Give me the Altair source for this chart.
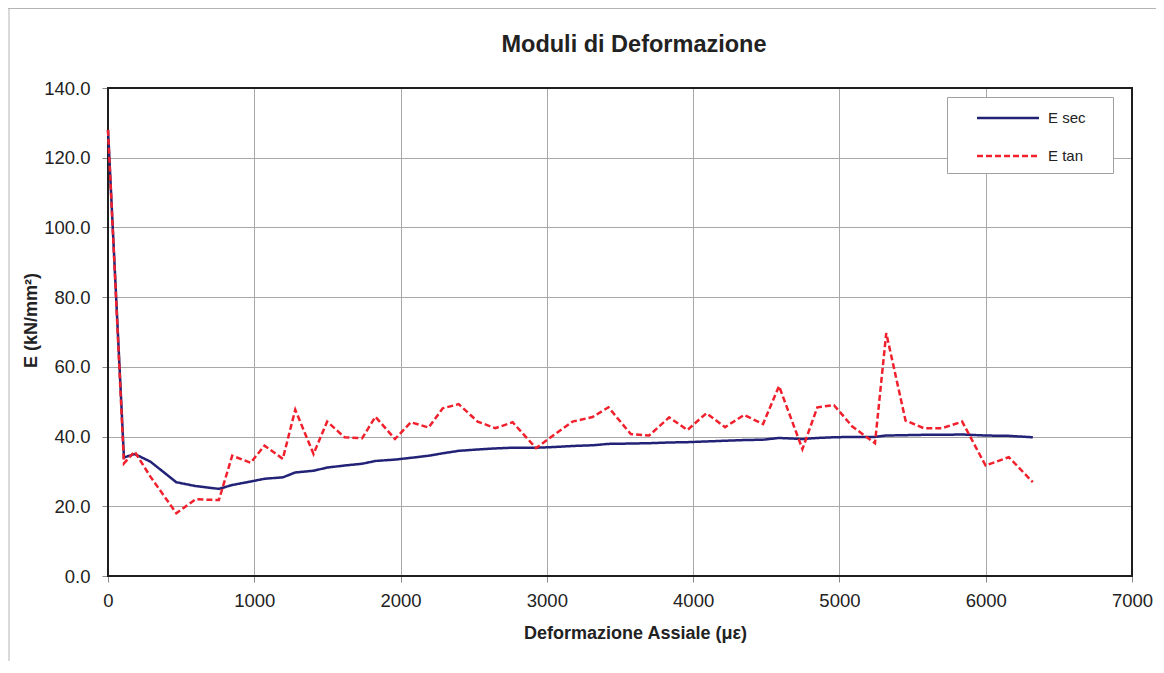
import altair as alt
import pandas as pd

# ---- data ----
strain = [0, 109, 182, 290, 467, 599, 758, 849, 975, 1070,
          1195, 1280, 1405, 1498, 1617, 1737, 1828, 1962, 2070, 2192,
          2288, 2397, 2527, 2648, 2766, 2926, 3050, 3176, 3312, 3421,
          3574, 3699, 3836, 3961, 4091, 4218, 4348, 4478, 4587, 4747,
          4849, 4963, 5088, 5243, 5320, 5452, 5577, 5702, 5839, 5999,
          6158, 6322]
e_sec = [128.0, 34.0, 35.0, 32.8, 26.9, 25.8, 25.0, 26.1, 27.1, 27.9,
         28.3, 29.7, 30.2, 31.1, 31.7, 32.2, 33.0, 33.4, 33.9, 34.5,
         35.2, 35.9, 36.3, 36.6, 36.8, 36.8, 37.0, 37.3, 37.5, 37.9,
         38.0, 38.1, 38.3, 38.4, 38.6, 38.8, 39.0, 39.1, 39.6, 39.3,
         39.6, 39.8, 39.9, 39.9, 40.3, 40.4, 40.5, 40.5, 40.6, 40.3,
         40.2, 39.8]
e_tan = [128.0, 32.3, 35.7, 28.5, 18.0, 22.0, 21.8, 34.5, 32.5, 37.4,
         33.6, 47.7, 35.0, 44.3, 39.8, 39.5, 45.7, 39.3, 44.1, 42.6,
         48.1, 49.3, 44.3, 42.4, 44.1, 36.7, 40.5, 44.3, 45.6, 48.4,
         40.7, 40.3, 45.5, 41.9, 46.7, 42.7, 46.2, 43.6, 54.5, 36.4,
         48.4, 49.0, 42.9, 38.1, 69.7, 44.6, 42.4, 42.4, 44.3, 31.7,
         34.1, 26.9]
series_names = ["E sec", "E tan"]
x_ticks = [0, 1000, 2000, 3000, 4000, 5000, 6000, 7000]
y_ticks = [0, 20, 40, 60, 80, 100, 120, 140]
chart_title = "Moduli di Deformazione"

df = pd.concat([
    pd.DataFrame({"strain": strain, "E": e_sec, "serie": series_names[0]}),
    pd.DataFrame({"strain": strain, "E": e_tan, "serie": series_names[1]}),
], ignore_index=True)

FONT = "Liberation Sans"
BLUE = "#222277"
RED = "#f0202c"
TXT = "#222222"

# legend symbol: a horizontal stroke; the trailing move-to only widens the legend box
legend = alt.Legend(
    title=None, orient="none", legendX=839, legendY=9,
    symbolType="M-3,0H3M8.8,0", symbolSize=427, symbolStrokeWidth=2.5,
    symbolOffset=40, labelOffset=28, rowPadding=18,
    labelFont=FONT, labelFontSize=15, labelColor=TXT,
    padding=9, strokeColor="#a0a0a0", fillColor="white",
)

lines = alt.Chart(df).mark_line(strokeWidth=2.5).encode(
    x=alt.X("strain:Q", scale=alt.Scale(domain=[0, 7000], nice=False),
            axis=alt.Axis(values=x_ticks, format="d", labelFlush=False,
                          title="Deformazione Assiale (με)",
                          titleX=527, titleY=62, titleBaseline="alphabetic",
                          titleAlign="center", labelPadding=9)),
    y=alt.Y("E:Q", scale=alt.Scale(domain=[0, 140], nice=False),
            axis=alt.Axis(values=y_ticks, format=".1f", labelFlush=False,
                          title="E (kN/mm²)", titleAngle=-90,
                          titleX=-72, titleY=232, titleBaseline="alphabetic",
                          titleAlign="center", labelPadding=12)),
    color=alt.Color("serie:N", scale=alt.Scale(domain=series_names, range=[BLUE, RED]),
                    legend=legend),
    strokeDash=alt.StrokeDash("serie:N",
                              scale=alt.Scale(domain=series_names, range=[[1, 0], [6, 3]]),
                              legend=legend),
)

frame = alt.Chart(alt.Data(values=[{}])).mark_rect(
    fill=None, fillOpacity=0, stroke="#1e1e1e", strokeWidth=2
).encode(x=alt.value(0), x2=alt.value("width"), y=alt.value(0), y2=alt.value("height"))

title_mark = alt.Chart(alt.Data(values=[{}])).mark_text(
    font=FONT, fontSize=23.5, fontWeight="bold", color=TXT,
    align="center", baseline="alphabetic"
).encode(x=alt.value(526), y=alt.value(-36.5), text=alt.value(chart_title))

border_left = alt.Chart(alt.Data(values=[{}])).mark_rule(color="#b4b4b4", strokeWidth=1).encode(
    x=alt.value(-99), y=alt.value(-80), y2=alt.value(600))
border_top = alt.Chart(alt.Data(values=[{}])).mark_rule(color="#b4b4b4", strokeWidth=1).encode(
    x=alt.value(-100), x2=alt.value(1060), y=alt.value(-79.5))

chart = alt.layer(border_top, border_left, title_mark, frame, lines).properties(
    width=1024, height=488,
    padding={"left": 100, "top": 80, "right": 24, "bottom": 85},
    autosize=alt.AutoSizeParams(type="none"),
    background="white",
).configure_view(stroke=None).configure_axis(
    domain=False, grid=True, gridColor="#a8a8a8", gridWidth=1,
    tickColor="#8a8a8a", tickSize=6, tickWidth=1,
    labelFont=FONT, labelFontSize=18.5, labelColor=TXT,
    titleFont=FONT, titleFontSize=18, titleFontWeight="bold", titleColor=TXT,
)

chart.save("out.html", embed_options={"renderer": "svg", "actions": False})
